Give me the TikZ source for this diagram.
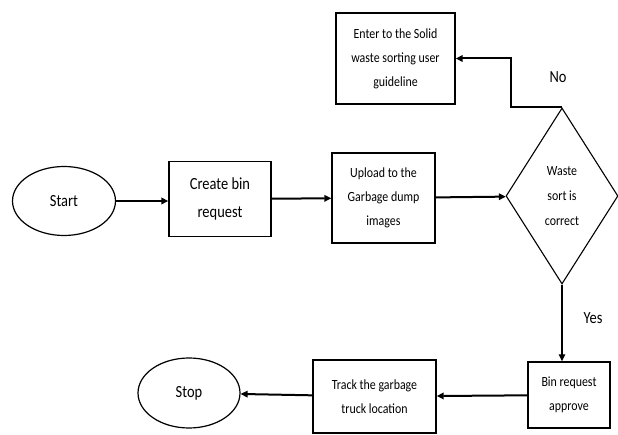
\documentclass[tikz,border=0pt]{standalone}
\usepackage{fontspec}
\setmainfont{Carlito}[FakeStretch=0.85]
\usepackage{tikz}
\usetikzlibrary{arrows.meta,shapes.geometric}

\begin{document}
\begin{tikzpicture}[x=1pt,y=-1pt,
  box/.style={draw,line width=1.4pt,rectangle,inner sep=0pt,align=center,font=\fontsize{14}{24}\selectfont},
  term/.style={draw,line width=1.2pt,ellipse,inner sep=0pt,font=\fontsize{17}{20}\selectfont},
  decision/.style={draw,line width=1.1pt,diamond,inner sep=0pt,aspect=0.64,align=center,font=\fontsize{14}{25}\selectfont},
  flow/.style={->,>={Triangle[length=7pt,width=6.5pt]},line width=2pt}]
\useasboundingbox (0,0) rectangle (618,435);
\node[term, minimum width=103pt, minimum height=69pt]     (start)   at (64,201)    {Start};
  \node[box, minimum width=102pt, minimum height=75pt, font=\fontsize{17}{28}\selectfont]
                                                           (create)  at (220,199)   {Create bin\\request};
  \node[box, minimum width=103pt, minimum height=90pt]     (upload)  at (383.5,198) {Upload to the\\Garbage dump\\images};
  \node[decision, minimum width=112pt, minimum height=176pt] (check) at (562,196)   {Waste\\sort is\\correct};
  \node[box, minimum width=119pt, minimum height=91pt]     (guide)   at (395.5,58.5) {Enter to the Solid\\waste sorting user\\guideline};
  \node[box, minimum width=82pt, minimum height=66pt]      (approve) at (569,395)   {Bin request\\approve};
  \node[box, minimum width=123pt, minimum height=73pt]     (track)   at (374.5,396.5) {Track the garbage\\truck location};
  \node[term, minimum width=102pt, minimum height=70pt]    (stop)    at (189,393)   {Stop};
  \node[font=\fontsize{17}{20}\selectfont] (no)  at (558,77)  {No};
  \node[font=\fontsize{17}{20}\selectfont] (yes) at (593,318) {Yes};

  \draw[flow] (start.east) -- (create.west |- start.east);
  \draw[flow] (create) -- (upload);
  \draw[flow] (upload) -- (check);
  \draw[flow] (check.north) -| ([xshift=55pt]guide.east) -- (guide.east);
  \draw[flow, line width=1.1pt] (check.south) -- (check.south |- approve.north);
  \draw[flow] (approve) -- (track);
  \draw[flow] (track) -- (stop);
\end{tikzpicture}
\end{document}
